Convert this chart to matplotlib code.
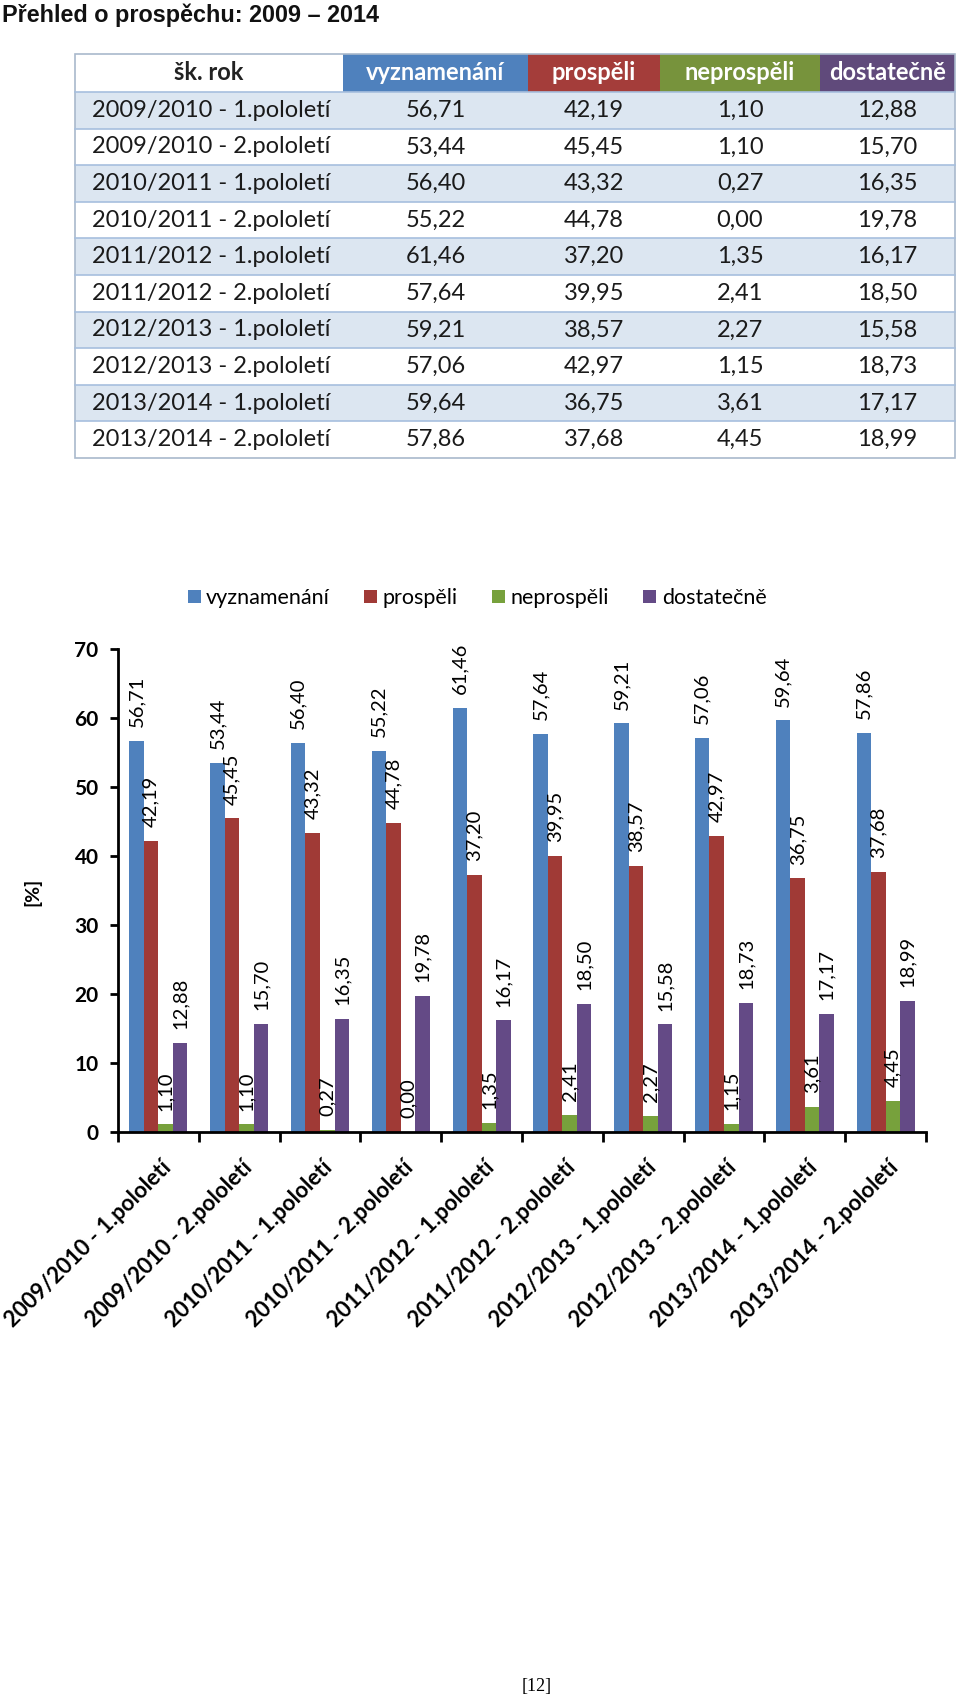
import matplotlib
matplotlib.use("Agg")
import matplotlib.pyplot as plt
import matplotlib.patches as mpatches
import matplotlib.transforms as mtransforms
import numpy as np

plt.rcParams['font.family'] = ['Lato', 'DejaVu Sans']

title = "Přehled o prospěchu: 2009 – 2014"
col_head = "šk. rok"
series_names = ["vyznamenání", "prospěli", "neprospěli", "dostatečně"]
periods = ["2009/2010 - 1.pololetí", "2009/2010 - 2.pololetí",
           "2010/2011 - 1.pololetí", "2010/2011 - 2.pololetí",
           "2011/2012 - 1.pololetí", "2011/2012 - 2.pololetí",
           "2012/2013 - 1.pololetí", "2012/2013 - 2.pololetí",
           "2013/2014 - 1.pololetí", "2013/2014 - 2.pololetí"]
vyznamenani = [56.71, 53.44, 56.40, 55.22, 61.46, 57.64, 59.21, 57.06, 59.64, 57.86]
prospeli = [42.19, 45.45, 43.32, 44.78, 37.20, 39.95, 38.57, 42.97, 36.75, 37.68]
neprospeli = [1.10, 1.10, 0.27, 0.00, 1.35, 2.41, 2.27, 1.15, 3.61, 4.45]
dostatecne = [12.88, 15.70, 16.35, 19.78, 16.17, 18.50, 15.58, 18.73, 17.17, 18.99]
series = [vyznamenani, prospeli, neprospeli, dostatecne]
y_ticks = [0, 10, 20, 30, 40, 50, 60, 70]

bar_colors = ['#4F81BD', '#A03A36', '#77A13C', '#644A86']
head_colors = ['#4F81BD', '#A43D3A', '#77933C', '#604A7B']


def fmt(v):
    return f"{v:.2f}".replace('.', ',')


W, H = 960, 1696
fig = plt.figure(figsize=(W / 100, H / 100), dpi=100)

# page layer in pixel coordinates (title + table)
bg = fig.add_axes([0, 0, 1, 1], zorder=0)
bg.set_xlim(0, W)
bg.set_ylim(H, 0)
bg.axis('off')

bg.text(2, 15, title, family='Liberation Sans', fontweight='bold',
        fontsize=16.8, va='center', ha='left', color='#111111')

edges = [75, 343, 528, 660, 820, 955]
top, head_bot, row_h = 54, 92, 36.6
grid_c = '#A7BFDE'
tfs = 17

# header
for j in range(5):
    fc = 'white' if j == 0 else head_colors[j - 1]
    bg.add_patch(mpatches.Rectangle((edges[j], top), edges[j + 1] - edges[j],
                                    head_bot - top, facecolor=fc, edgecolor='none'))
bg.text((edges[0] + edges[1]) / 2, (top + head_bot) / 2, col_head, ha='center',
        va='center', fontsize=tfs, fontweight='bold', color='#222222')
for j, name in enumerate(series_names):
    bg.text((edges[j + 1] + edges[j + 2]) / 2, (top + head_bot) / 2, name,
            ha='center', va='center', fontsize=tfs, fontweight='bold', color='white')

# rows
for i, p in enumerate(periods):
    y0 = head_bot + i * row_h
    fc = '#DCE6F1' if i % 2 == 0 else 'white'
    bg.add_patch(mpatches.Rectangle((edges[0], y0), edges[-1] - edges[0], row_h,
                                    facecolor=fc, edgecolor='none'))
    yc = y0 + row_h / 2
    bg.text(92, yc, p, ha='left', va='center', fontsize=tfs, color='#1a1a1a')
    for j, s in enumerate(series):
        bg.text((edges[j + 1] + edges[j + 2]) / 2, yc, fmt(s[i]), ha='center',
                va='center', fontsize=tfs, color='#1a1a1a')
    bg.plot([edges[0], edges[-1]], [y0, y0], color=grid_c, lw=1.2)

bottom = head_bot + len(periods) * row_h
bg.add_patch(mpatches.Rectangle((edges[0], top), edges[-1] - edges[0], bottom - top,
                                facecolor='none', edgecolor='#A9B9CC', lw=1.2))

# bar chart
ax = fig.add_axes([118 / W, (H - 1132) / H, 808 / W, (1132 - 649) / H], zorder=2)
ax.patch.set_alpha(0)
x = np.arange(len(periods))
w = 0.18
handles = []
for k, (s, c) in enumerate(zip(series, bar_colors)):
    pos = x + (k - 1.5) * w
    b = ax.bar(pos, s, width=w, color=c, zorder=2)
    handles.append(b)
    for xp, v in zip(pos, s):
        ax.annotate(fmt(v), (xp, v), xytext=(0, 10), textcoords='offset points',
                    rotation=90, ha='center', va='bottom', fontsize=14.5,
                    color='black', zorder=3)

ax.set_xlim(-0.5, len(periods) - 0.5)
ax.set_ylim(0, 70)
ax.set_yticks(y_ticks)
ax.set_yticklabels([str(t) for t in y_ticks], fontweight='bold', fontsize=15)
ax.set_xticks(x)
ax.set_xticklabels(periods, rotation=45, ha='right', va='top',
                   rotation_mode='anchor', fontweight='bold', fontsize=16)
ax.set_xticks(np.arange(-0.5, len(periods), 1.0), minor=True)
ax.tick_params(axis='x', which='major', length=0, pad=18)
ax.tick_params(axis='x', which='minor', length=7, width=2, direction='out')
ax.tick_params(axis='y', length=6, width=2, direction='out', pad=8)
shift = mtransforms.ScaledTranslation(2 / 100, 0, fig.dpi_scale_trans)
for lab in ax.get_xticklabels():
    lab.set_transform(lab.get_transform() + shift)
for sp in ['top', 'right']:
    ax.spines[sp].set_visible(False)
for sp in ['left', 'bottom']:
    ax.spines[sp].set_linewidth(2)

fig.legend(handles, series_names, loc='center', bbox_to_anchor=(477 / W, 1 - 598 / H),
           ncol=4, frameon=False, handlelength=0.6, handleheight=0.6,
           handletextpad=0.25, columnspacing=1.6, fontsize=15.5)

fig.text(32 / W, 1 - 892 / H, '[%]', rotation=90, ha='center', va='center',
         fontweight='bold', fontsize=14)
fig.text(537 / W, 1 - 1686 / H, '[12]', family='Liberation Serif', ha='center',
         va='center', fontsize=13)

fig.savefig('out.png', dpi=100)
